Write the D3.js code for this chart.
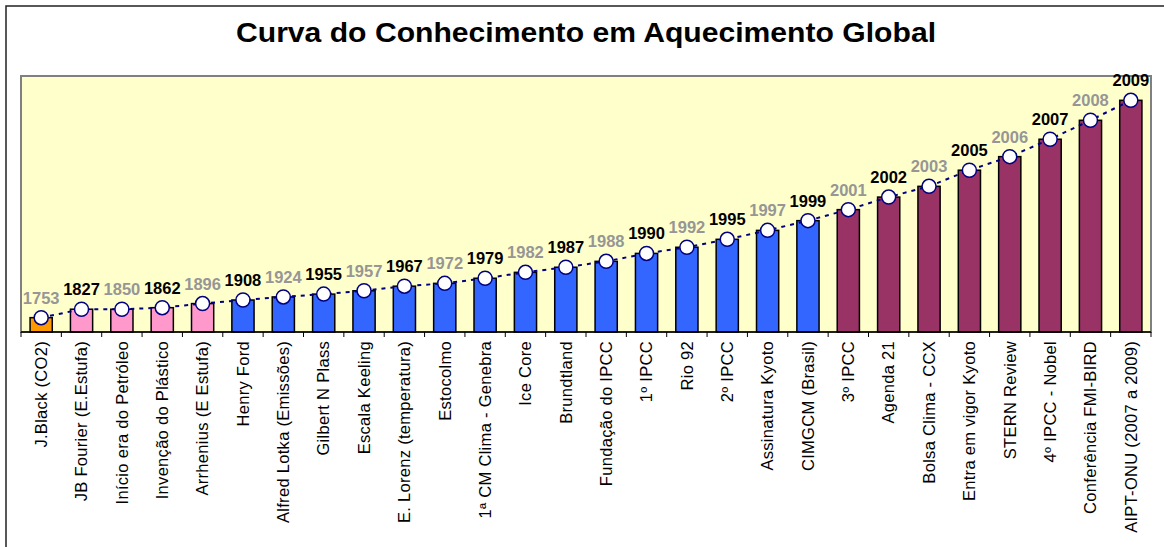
<!DOCTYPE html>
<html>
<head>
<meta charset="utf-8">
<script src="https://cdn.jsdelivr.net/npm/d3@7"></script>
<style>
  body { margin: 0; background: #fff; }
  svg { display: block; font-family: "Liberation Sans", Arial, sans-serif; }
</style>
</head>
<body>
<script>
// categorias (eventos) e anos
var categories = ["J.Black (CO2)", "JB Fourier (E.Estufa)", "Início era do Petróleo", "Invenção do Plástico",
    "Arrhenius (E Estufa)", "Henry Ford", "Alfred Lotka (Emissões)", "Gilbert N Plass", "Escala Keeling",
    "E. Lorenz (temperatura)", "Estocolmo", "1ª CM Clima - Genebra", "Ice Core", "Brundtland",
    "Fundação do IPCC", "1º IPCC", "Rio 92", "2º IPCC", "Assinatura Kyoto", "CIMGCM (Brasil)",
    "3º IPCC", "Agenda 21", "Bolsa Clima - CCX", "Entra em vigor Kyoto", "STERN Review",
    "4º IPCC - Nobel", "Conferência FMI-BIRD", "AIPT-ONU (2007 a 2009)"];
var years = ["1753", "1827", "1850", "1862", "1896", "1908", "1924", "1955", "1957", "1967", "1972",
    "1979", "1982", "1987", "1988", "1990", "1992", "1995", "1997", "1999", "2001", "2002", "2003",
    "2005", "2006", "2007", "2008", "2009"];
// nivel de conhecimento
var values = [5.6, 8.9, 8.9, 9.5, 11.1, 12.5, 13.7, 14.8, 16.1, 17.9, 19.0, 21.0, 23.3, 25.3,
    27.6, 30.7, 33.1, 36.2, 39.7, 43.5, 47.8, 52.7, 56.9, 63.2, 68.5, 75.3, 82.7, 90.5];
// periodo de cada evento
var periods = ["a", "b", "b", "b", "b", "c", "c", "c", "c", "c", "c", "c", "c", "c", "c", "c",
    "c", "c", "c", "c", "d", "d", "d", "d", "d", "d", "d", "d"];
var periodColors = { a: "#FF9900", b: "#FF99CC", c: "#3366FF", d: "#993366" };

var width = 1164, height = 547;
var plot = { left: 21, right: 1151, top: 76, bottom: 332 };

var svg = d3.select("body").append("svg")
    .attr("width", width)
    .attr("height", height);

// borda externa
svg.append("rect")
    .attr("x", 6).attr("y", 6)
    .attr("width", width + 20).attr("height", height + 20)
    .attr("fill", "#fff")
    .attr("stroke", "#222")
    .attr("stroke-width", 1.5);

svg.append("text")
    .attr("x", 586)
    .attr("y", 42)
    .attr("text-anchor", "middle")
    .attr("textLength", 700)
    .attr("lengthAdjust", "spacingAndGlyphs")
    .style("font-size", "28px")
    .style("font-weight", "bold")
    .text("Curva do Conhecimento em Aquecimento Global");

var x = d3.scaleBand()
    .domain(categories)
    .range([plot.left, plot.right])
    .paddingInner(0.45)
    .paddingOuter(0.225);

var y = d3.scaleLinear()
    .domain([0, 100])
    .range([plot.bottom, plot.top]);

// area de plotagem
svg.append("rect")
    .attr("x", plot.left).attr("y", plot.top)
    .attr("width", plot.right - plot.left)
    .attr("height", plot.bottom - plot.top)
    .attr("fill", "#FFFFCC")
    .attr("stroke", "#808080")
    .attr("stroke-width", 2);

svg.selectAll("rect.bar")
    .data(values)
    .enter().append("rect")
    .attr("class", "bar")
    .attr("x", (d, i) => x(categories[i]))
    .attr("y", d => y(d))
    .attr("width", x.bandwidth())
    .attr("height", d => y(0) - y(d))
    .attr("fill", (d, i) => periodColors[periods[i]])
    .attr("stroke", "#000")
    .attr("stroke-width", 1.5);

// eixo x
var step = x.step();
var axis = svg.append("g");
axis.append("line")
    .attr("x1", plot.left).attr("x2", plot.right)
    .attr("y1", plot.bottom).attr("y2", plot.bottom)
    .attr("stroke", "#000").attr("stroke-width", 1.5);
axis.selectAll("line.tick")
    .data(d3.range(categories.length + 1))
    .enter().append("line")
    .attr("class", "tick")
    .attr("x1", i => plot.left + i * step).attr("x2", i => plot.left + i * step)
    .attr("y1", plot.bottom).attr("y2", plot.bottom + 5)
    .attr("stroke", "#000").attr("stroke-width", 1);
axis.selectAll("text")
    .data(categories)
    .enter().append("text")
    .attr("transform", d => "translate(" + (x(d) + x.bandwidth() / 2) + "," + (plot.bottom + 9) + ") rotate(-90)")
    .attr("text-anchor", "end")
    .attr("dy", "0.35em")
    .style("font-size", "16.5px")
    .style("letter-spacing", "0.3px")
    .attr("fill", "#000")
    .text(d => d);

// linha pontilhada
var line = d3.line()
    .x((d, i) => x(categories[i]) + x.bandwidth() / 2)
    .y(d => y(d));
svg.append("path")
    .datum(values)
    .attr("d", line)
    .attr("fill", "none")
    .attr("stroke", "#000080")
    .attr("stroke-width", 2)
    .attr("stroke-dasharray", "4,5");

svg.selectAll("circle")
    .data(values)
    .enter().append("circle")
    .attr("cx", (d, i) => x(categories[i]) + x.bandwidth() / 2)
    .attr("cy", d => y(d))
    .attr("r", 7)
    .attr("fill", "#fff")
    .attr("stroke", "#000080")
    .attr("stroke-width", 1.5);

svg.selectAll("text.year")
    .data(values)
    .enter().append("text")
    .attr("class", "year")
    .attr("x", (d, i) => x(categories[i]) + x.bandwidth() / 2)
    .attr("y", d => y(d) - 14)
    .attr("text-anchor", "middle")
    .style("font-size", "16.5px")
    .style("font-weight", "bold")
    .attr("fill", (d, i) => i % 2 == 0 ? "#969696" : "#000")
    .text((d, i) => years[i]);
</script>
</body>
</html>
